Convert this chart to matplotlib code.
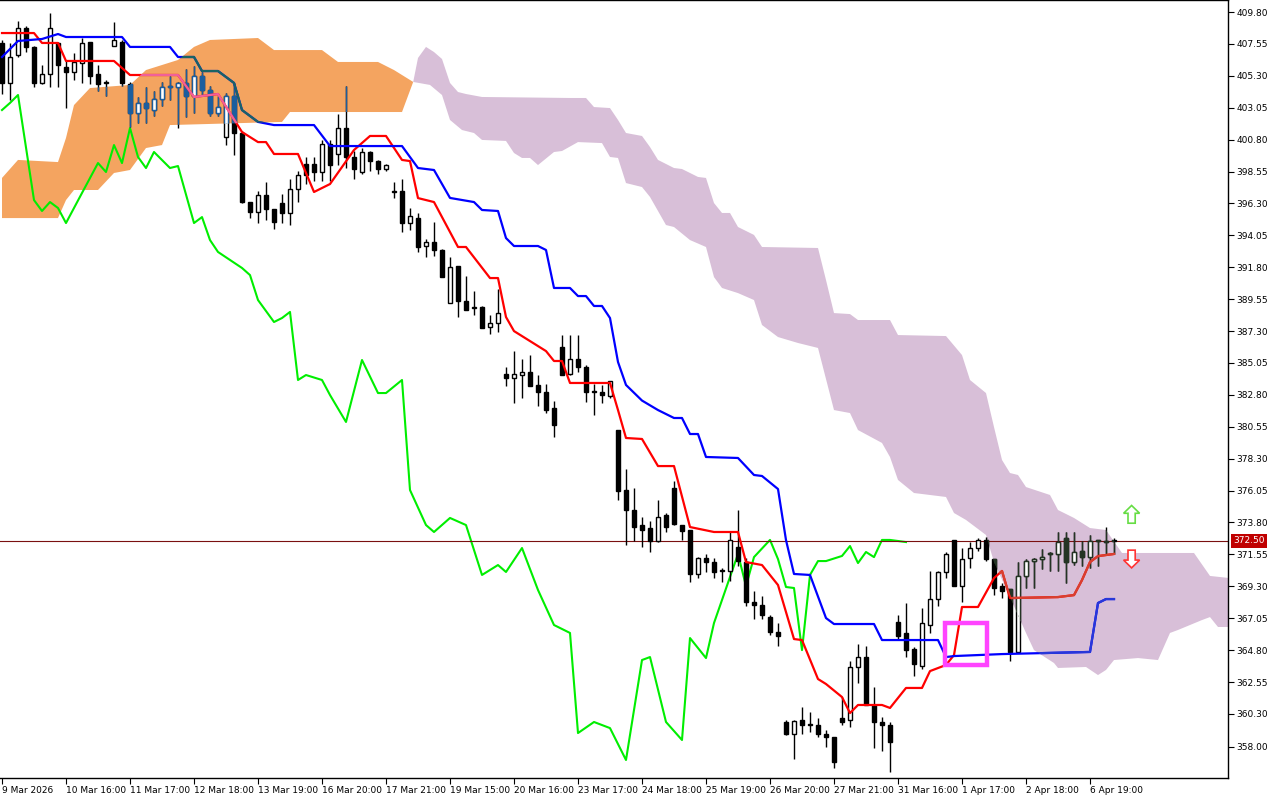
import matplotlib
matplotlib.use("Agg")
import matplotlib.pyplot as plt
from matplotlib.patches import Polygon, Rectangle, FancyArrow
import numpy as np

# ---------------- data ----------------
opens = [407.6,404.8,406.8,408.7,407.3,404.8,405.4,407.6,405.9,405.6,406.2,407.7,405.4,404.8,407.4,407.7,404.7,402.7,403.4,402.9,
         403.7,404.5,404.5,404.8,403.9,405.3,404.3,402.7,401.0,403.9,401.3,396.4,395.7,396.9,395.9,396.3,395.6,397.3,399.1,399.1,
         398.5,400.5,399.8,401.6,399.6,398.5,399.9,399.3,398.7,397.1,397.2,394.9,395.3,393.3,393.6,393.0,389.3,391.9,389.4,388.9,
         389.0,387.6,387.9,384.3,384.0,384.2,384.4,383.5,383.0,381.9,386.2,384.3,385.3,384.8,383.1,383.0,382.7,380.3,376.1,374.7,
         373.6,373.4,372.5,374.3,376.2,373.6,373.3,370.2,371.3,371.0,370.4,370.4,372.1,371.0,368.2,368.0,367.1,366.1,359.7,358.9,
         359.9,359.6,359.5,358.9,358.7,360.0,359.9,363.6,364.3,360.9,359.7,359.5,366.8,366.0,364.9,363.7,366.6,368.4,370.3,372.6,
         369.3,371.3,372.0,372.6,371.2,369.3,369.1,364.7,370.0,371.1,371.2,371.6,371.6,372.7,371.0,371.8,371.4,372.6,372.5,372.5]
highs = [407.8,407.6,409.2,408.8,407.4,406.1,409.7,407.7,406.4,406.9,408.0,407.7,406.1,405.0,409.1,407.8,404.9,403.8,404.5,404.2,
         404.9,405.3,404.9,405.8,406.0,405.6,404.6,403.9,404.1,404.8,401.4,396.4,397.2,397.8,395.9,397.0,398.0,398.6,399.6,399.6,
         400.8,400.8,402.6,404.6,400.0,400.2,400.0,399.4,399.1,397.8,398.0,396.0,395.6,393.8,395.0,393.1,392.5,391.9,391.2,390.1,
         389.1,388.4,390.3,384.8,385.9,385.3,385.6,384.2,383.6,382.4,387.0,387.0,387.0,384.9,383.6,383.5,383.8,380.3,377.6,376.2,
         374.2,373.9,375.4,374.5,376.7,373.6,373.3,371.4,371.6,371.3,370.6,373.1,374.7,371.3,369.0,368.6,367.3,366.7,359.9,359.9,
         360.8,360.4,360.0,359.2,358.7,361.5,364.0,365.2,365.1,362.2,360.1,359.7,367.3,368.1,365.0,367.8,370.4,370.4,371.7,372.6,
         372.0,372.4,372.7,372.8,371.2,369.5,369.1,371.0,371.2,371.3,371.9,371.7,373.1,373.1,373.1,372.5,372.9,372.6,373.5,372.7]
lows = [404.0,403.6,406.6,407.0,404.5,404.7,404.5,404.5,403.0,405.0,404.8,404.7,404.2,403.9,407.4,404.6,401.7,402.0,402.0,402.5,
        403.2,403.6,401.6,402.4,402.7,403.9,402.5,402.5,400.4,399.7,396.3,395.3,394.9,395.1,394.5,394.9,394.8,396.4,397.7,397.9,
        397.9,397.9,399.0,398.8,398.0,398.4,398.6,398.4,398.6,396.7,394.3,394.4,392.9,392.5,392.6,391.1,389.3,388.3,388.8,388.4,
        387.5,387.1,387.2,383.4,382.2,382.6,383.4,382.0,381.5,379.8,384.2,384.2,384.4,382.3,381.4,382.2,382.6,375.4,372.2,372.5,
        372.1,371.7,372.4,373.1,373.6,372.6,369.6,369.9,370.3,369.9,369.6,369.7,370.7,367.9,367.0,367.0,365.9,365.1,358.8,357.1,
        358.9,359.0,358.7,358.0,356.5,359.5,359.4,362.5,360.9,357.9,357.7,356.2,365.6,364.3,363.0,363.5,366.0,367.9,369.9,369.3,
        368.2,370.6,371.8,371.1,368.7,368.5,364.0,364.6,369.2,369.2,370.5,370.4,370.4,369.5,370.8,370.7,370.6,370.7,371.5,371.6]
closes = [404.8,406.6,408.7,407.3,404.8,405.4,408.7,406.1,405.6,406.3,407.6,405.3,404.7,404.9,407.8,404.8,402.7,403.4,403.0,403.7,
          404.5,404.55,404.8,403.9,405.3,404.3,402.7,403.1,403.9,401.3,396.4,395.7,396.9,395.9,395.0,395.6,397.3,398.3,398.3,398.5,
          400.5,399.0,401.6,399.6,398.7,399.9,399.3,398.7,399.0,397.15,394.9,395.4,393.2,393.6,393.0,391.1,391.8,389.4,388.8,389.0,
          387.5,387.9,388.6,384.0,384.3,384.4,383.4,383.0,381.7,380.7,384.2,385.3,384.8,383.0,383.0,382.8,383.8,376.0,374.7,373.5,
          373.3,372.5,374.2,373.5,373.7,373.2,370.2,371.3,371.0,370.3,370.45,372.6,371.1,368.2,368.0,367.3,366.1,365.8,358.9,359.8,
          359.5,359.5,358.9,358.7,356.9,359.7,363.6,364.3,360.9,359.7,359.5,358.3,365.8,364.8,363.8,366.7,368.4,370.3,371.6,369.3,
          371.2,372.0,372.6,371.2,369.2,369.0,364.7,370.0,371.1,371.2,371.4,371.65,372.4,371.0,371.7,371.4,372.5,372.5,372.4,372.5]

tenkan_idx = [0,4,5,7,8,14,16,22,24,27,30,32,33,34,37,39,41,44,46,48,50,51,52,54,57,58,61,62,63,64,68,69,70,71,76,77,78,80,82,84,
              86,89,92,93,95,97,99,100,102,103,105,106,107,110,111,113,115,116,118,119,120,122,124,125,126,132,134,135,136,137,139]
tenkan_val = [408.32,408.32,407.62,407.62,406.35,406.35,405.36,405.36,403.81,404.02,401.34,400.63,400.63,399.79,399.79,397.11,397.67,
              400.07,401.06,401.06,399.37,399.29,396.68,396.40,393.23,393.23,391.04,391.04,388.29,387.30,385.89,385.19,385.19,383.64,
              383.64,381.73,379.76,379.69,377.78,377.78,373.48,373.13,373.13,371.01,370.80,369.39,365.58,365.51,362.76,362.41,361.49,
              360.36,360.93,360.93,360.72,362.13,362.13,363.32,363.75,364.45,367.84,367.84,369.88,370.38,368.47,368.54,368.68,369.74,
              371.01,371.43,371.58]

kijun_idx = [0,2,5,7,8,15,16,21,22,24,25,27,29,30,32,34,39,41,50,52,54,56,59,60,62,63,64,67,68,69,71,72,73,74,75,76,77,78,80,82,
             84,85,86,87,88,92,94,95,97,98,99,101,103,104,109,110,117,118,119,122,125,136,137,138,139]
kijun_val = [406.63,407.76,407.90,408.25,408.04,408.04,407.34,407.34,406.63,406.63,405.64,405.64,404.80,402.89,402.05,401.83,401.83,
             400.35,400.35,398.80,398.66,396.69,396.40,395.84,395.77,393.86,393.30,393.30,393.02,390.34,390.34,389.77,389.77,389.07,
             389.07,388.22,385.12,383.50,382.40,381.73,381.17,381.17,380.04,380.04,378.42,378.35,377.15,377.08,376.16,372.56,370.17,
             370.10,367.06,366.64,366.64,365.51,365.51,364.31,364.38,364.45,364.52,364.67,368.12,368.40,368.40]

chikou_idx = [0,1,2,4,5,6,7,8,10,12,13,14,15,16,17,18,19,21,22,24,25,26,27,30,31,32,34,35,36,37,38,40,41,43,45,47,48,50,51,53,54,
              56,58,60,62,63,65,67,69,71,72,74,76,78,80,81,83,85,86,88,89,92,93,94,96,97,98,99,100,101,102,103,105,106,107,108,109,
              110,111,113]
chikou_val = [402.89,403.39,403.95,396.54,395.77,396.40,395.98,394.92,397.04,399.15,398.52,400.42,399.15,401.62,399.58,398.80,399.93,
              398.80,398.94,394.92,395.34,393.72,392.88,391.75,391.25,389.49,387.94,388.22,388.65,383.85,384.20,383.85,382.79,380.89,
              385.26,382.93,382.93,383.85,376.09,373.62,373.13,374.12,373.62,370.10,370.80,370.31,372.00,369.04,366.57,366.01,358.95,
              359.73,359.30,357.05,364.10,364.31,359.73,358.46,365.65,364.24,366.71,371.58,369.32,371.36,372.57,371.22,369.25,369.18,
              364.80,370.10,371.08,371.08,371.44,372.14,370.94,371.72,371.36,372.57,372.57,372.42]

# bullish (orange) cloud, upper and lower edges
orange_up_idx = [0,2,7,8,9,11,16,18,22,24,26,32,34,40,42,47,49,51.4]
orange_up_val = [398.10,399.37,399.22,400.92,403.24,404.44,404.66,405.71,406.42,407.34,407.83,407.97,407.12,407.12,406.28,406.28,405.71,404.87]
orange_lo_idx = [0,7,8,9,12,14,16,18,20,21,35,36,50,51.4]
orange_lo_val = [395.27,395.27,396.54,397.25,397.25,398.45,398.66,400.21,400.42,401.83,402.05,402.75,402.75,404.87]

# bearish (purple) cloud
purple_up_idx = [51.4,52,53,54,55,56,57,58,60,71,73,74,76,77,78,80,81,82,84,85,87,88,89,90,91,92,94,95,102,103,104,106,107,111,
                 112,118,120,121,123,124,125,126,127,128,131,132,134,136,138,140,149,151,153.3]
purple_up_val = [404.87,406.56,407.34,406.98,406.49,404.80,404.16,404.02,403.81,403.74,403.74,403.10,403.03,402.19,401.27,401.06,400.28,
                 399.37,398.80,398.73,398.17,398.10,396.33,395.63,395.63,394.64,394.08,393.23,393.16,390.90,388.57,388.50,388.08,388.08,
                 387.02,386.95,385.61,383.85,382.93,380.53,378.21,377.29,377.15,376.30,375.74,374.68,374.12,373.41,373.27,371.65,371.65,
                 370.03,369.89]
purple_lo_idx = [51.4,53.5,55,56,57.5,59,60,63,64,65,66,67,69,70,72,75,76,77,78,80,81,83,84,86,88,89,90,92,94,95,97,99.5,102,104,
                 106,107,110,111,112,114,118,119,120.5,123,124,126,128,129,131.5,132,135.5,137,138,139,142,144.5,146,147,150,151,152,153.3]
purple_lo_val = [404.87,404.66,403.95,402.19,401.48,401.27,400.78,400.71,399.86,399.51,399.51,399.01,399.93,400.00,400.63,400.56,399.58,
                 399.51,397.74,397.46,396.76,394.78,394.64,393.72,393.23,391.11,390.34,389.98,389.49,387.73,386.88,386.46,386.11,381.73,
                 381.52,380.32,379.41,378.42,376.80,375.88,375.60,374.47,373.98,372.92,371.01,368.54,366.01,364.80,363.89,363.54,363.61,
                 363.04,363.40,364.10,364.24,364.10,366.01,366.22,366.92,367.13,366.43,366.43]

last_price = 372.50
ytick_vals = [409.80,407.55,405.30,403.05,400.80,398.55,396.30,394.05,391.80,389.55,387.30,385.05,382.80,380.55,378.30,376.05,
              373.80,371.55,369.30,367.05,364.80,362.55,360.30,358.00]
xtick_idx = [0,8,16,24,32,40,48,56,64,72,80,88,96,104,112,120,128,136]
xtick_labels = ["9 Mar 2026","10 Mar 16:00","11 Mar 17:00","12 Mar 18:00","13 Mar 19:00","16 Mar 20:00","17 Mar 21:00",
                "19 Mar 15:00","20 Mar 16:00","23 Mar 17:00","24 Mar 18:00","25 Mar 19:00","26 Mar 20:00","27 Mar 21:00",
                "31 Mar 16:00","1 Apr 17:00","2 Apr 18:00","6 Apr 19:00"]
box_idx = (117.9, 123.1)
box_price = (363.75, 366.7)
arrow_idx = 141.2
up_arrow = (373.75, 1.25)
down_arrow = (371.85, -1.25)

# ---------------- plot ----------------
fig = plt.figure(figsize=(12.8, 8), dpi=100)
ax = fig.add_axes([0.0, 0.0275, 1228/1280, 0.9725])
ax.set_xlim(-0.25, 153.25)
ax.set_ylim(355.78, 410.65)

ORANGE = "#f4a460"
PURPLE = "#d8bfd8"

def cloud(up_i, up_v, lo_i, lo_v, color):
    pts = list(zip(up_i, up_v)) + list(zip(lo_i[::-1], lo_v[::-1]))
    p = Polygon(pts, closed=True, facecolor=color, edgecolor="none", zorder=1)
    ax.add_patch(p)
    return p

orange_patch = cloud(orange_up_idx, orange_up_val, orange_lo_idx, orange_lo_val, ORANGE)
purple_patch = cloud(purple_up_idx, purple_up_val, purple_lo_idx, purple_lo_val, PURPLE)

x = np.arange(len(closes))
o = np.array(opens); c = np.array(closes); h = np.array(highs); l = np.array(lows)
bull = c >= o
bottom = np.minimum(o, c)
height = np.maximum(np.abs(c - o), 0.06)

def candles(bear_col, edge_col, bull_face, clip=None, z=3):
    arts = []
    arts.append(ax.vlines(x, l, h, color=edge_col, lw=1, zorder=z))
    b1 = ax.bar(x[bull], height[bull], bottom=bottom[bull], width=0.62, facecolor=bull_face,
                edgecolor=edge_col, linewidth=1, zorder=z + 0.1)
    b2 = ax.bar(x[~bull], height[~bull], bottom=bottom[~bull], width=0.62, facecolor=bear_col,
                edgecolor=bear_col, linewidth=1, zorder=z + 0.1)
    arts += list(b1) + list(b2)
    if clip is not None:
        for a in arts:
            a.set_clip_path(clip)

def lines(red, blue, clip=None, z=4):
    l1, = ax.plot(tenkan_idx, tenkan_val, color=red, lw=1.6, zorder=z)
    l2, = ax.plot(kijun_idx, kijun_val, color=blue, lw=1.6, zorder=z)
    if clip is not None:
        l1.set_clip_path(clip); l2.set_clip_path(clip)

ax.plot(chikou_idx, chikou_val, color="#00ee00", lw=1.5, zorder=2)
candles("black", "black", "white")
candles("#1c5e9e", "#1c5e9e", "white", clip=orange_patch, z=3.3)
candles("#243424", "#243424", "white", clip=purple_patch, z=3.3)
lines("#ff0000", "#0000ff")
lines("#f0609a", "#1a6464", clip=orange_patch, z=4.2)
lines("#d84030", "#2838d8", clip=purple_patch, z=4.2)

ax.axhline(last_price, color="#7a1010", lw=0.8, zorder=2.5)

ax.add_patch(Rectangle((box_idx[0], box_price[0]), box_idx[1] - box_idx[0], box_price[1] - box_price[0],
                       fill=False, edgecolor="#ff44ff", lw=3.2, zorder=6))

ax.add_patch(FancyArrow(arrow_idx, up_arrow[0], 0, up_arrow[1], width=0.9, head_width=2.0, head_length=0.55,
                        length_includes_head=True, facecolor="white", edgecolor="#66dd44", lw=1.2, zorder=6))
ax.add_patch(FancyArrow(arrow_idx, down_arrow[0], 0, down_arrow[1], width=0.9, head_width=2.0, head_length=0.55,
                        length_includes_head=True, facecolor="white", edgecolor="#ff3333", lw=1.2, zorder=6))

# axes styling
for s in ["left"]:
    ax.spines[s].set_visible(False)
for s in ["top", "right", "bottom"]:
    ax.spines[s].set_color("black"); ax.spines[s].set_linewidth(1)
ax.yaxis.tick_right()
ax.set_yticks(ytick_vals)
ax.set_yticklabels([f"{v:.2f}" for v in ytick_vals], fontsize=6.5)
ax.tick_params(axis="y", length=4, width=0.8, pad=2, direction="out")
ax.set_xticks(xtick_idx)
ax.set_xticklabels(xtick_labels, fontsize=6.5, ha="left")
ax.tick_params(axis="x", length=4, width=0.8, pad=2, direction="out")
for lab in ax.get_xticklabels():
    lab.set_x(0)

ax.text(1.004, last_price, f"{last_price:.2f}", transform=ax.get_yaxis_transform(), fontsize=6.5, color="white",
        va="center", ha="left", bbox=dict(boxstyle="square,pad=0.25", facecolor="#c00000", edgecolor="none"), zorder=10,
        clip_on=False)

fig.savefig("out.png", dpi=100)
